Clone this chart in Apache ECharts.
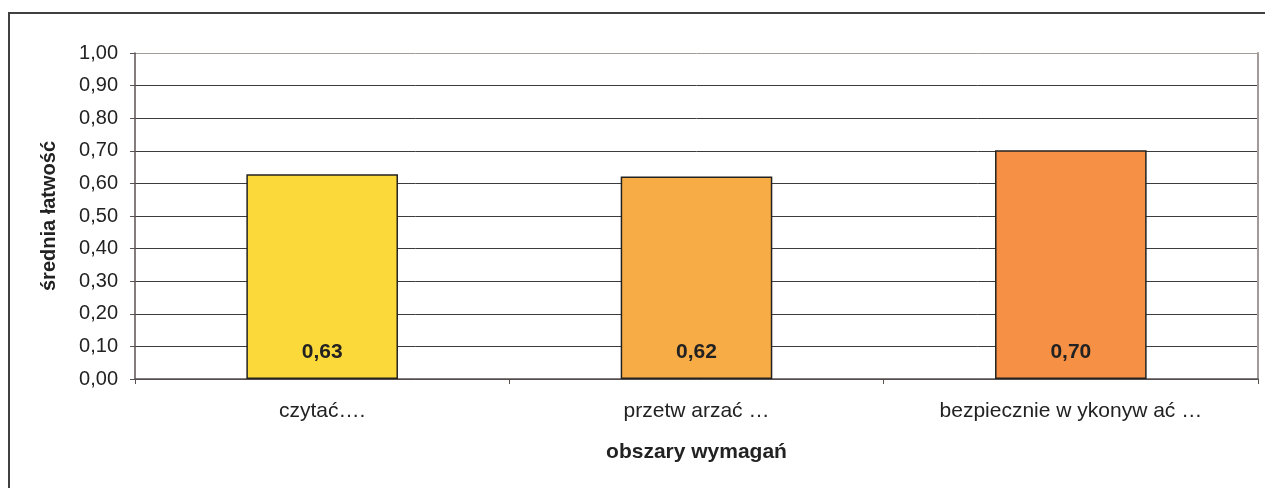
<!DOCTYPE html>
<html>
<head>
<meta charset="utf-8">
<script src="https://cdn.jsdelivr.net/npm/echarts@6/dist/echarts.min.js"></script>
<style>
  html, body { margin: 0; padding: 0; background: #ffffff; }
  #chart { width: 1265px; height: 488px; }
</style>
</head>
<body>
<div id="chart"></div>
<script>
// Area names and mean facility index per area
var categories = ['czytać….', 'przetw arzać …', 'bezpiecznie w ykonyw ać …'];
var values = [0.628, 0.621, 0.702];
var valueLabels = ['0,63', '0,62', '0,70'];
var barColors = ['#FCD93A', '#F8AC45', '#F69044'];

var fontFamily = '"Liberation Sans", Arial, sans-serif';
var chart = echarts.init(document.getElementById('chart'));

// Gridline colours: the topmost line doubles as the plot frame
var gridColors = [];
for (var i = 0; i <= 10; i++) gridColors.push(i === 10 ? '#A39B98' : '#3C3C3C');

chart.setOption({
  animation: false,
  backgroundColor: '#ffffff',
  grid: { left: 135, top: 53, right: 7, bottom: 109, containLabel: false },
  graphic: [{
    type: 'polyline',
    shape: { points: [[9, 500], [9, 13], [1280, 13]] },
    style: { stroke: '#404040', lineWidth: 2, fill: null },
    silent: true
  }],
  xAxis: {
    type: 'category',
    data: categories,
    name: 'obszary wymagań',
    nameLocation: 'middle',
    nameGap: 63,
    nameTextStyle: { fontFamily: fontFamily, fontSize: 21, fontWeight: 'bold', color: '#222222' },
    axisLine: { lineStyle: { color: '#5A5252', width: 1.5 } },
    axisTick: { show: true, alignWithLabel: false, length: 5, lineStyle: { color: '#5A5252' } },
    axisLabel: { margin: 22, fontFamily: fontFamily, fontSize: 21, color: '#222222', interval: 0 }
  },
  yAxis: [{
    type: 'value',
    min: 0,
    max: 1,
    interval: 0.1,
    name: 'średnia łatwość',
    nameLocation: 'middle',
    nameGap: 76,
    nameRotate: 90,
    nameTextStyle: { fontFamily: fontFamily, fontSize: 20, fontWeight: 'bold', color: '#222222' },
    axisLine: { show: true, lineStyle: { color: '#5A5252', width: 1.5 } },
    axisTick: { show: true, length: 5, lineStyle: { color: '#5A5252' } },
    axisLabel: {
      margin: 17,
      fontFamily: fontFamily,
      fontSize: 20,
      color: '#222222',
      formatter: function (v) { return v.toFixed(2).replace('.', ','); }
    },
    splitLine: { show: true, lineStyle: { color: gridColors, width: 1 } }
  }, {
    type: 'value',
    position: 'right',
    min: 0,
    max: 1,
    interval: 0.1,
    axisLine: { show: true, lineStyle: { color: '#A39B98', width: 2 } },
    axisTick: { show: false },
    axisLabel: { show: false },
    splitLine: { show: false }
  }],
  series: [{
    type: 'bar',
    yAxisIndex: 0,
    barWidth: '40.5%',
    data: values.map(function (v, i) {
      return {
        value: v,
        itemStyle: { color: barColors[i], borderColor: '#222222', borderWidth: 1.5 }
      };
    }),
    label: {
      show: true,
      position: 'insideBottom',
      distance: 16,
      fontFamily: fontFamily,
      fontSize: 21,
      fontWeight: 'bold',
      color: '#222222',
      formatter: function (p) { return valueLabels[p.dataIndex]; }
    }
  }]
});
</script>
</body>
</html>
